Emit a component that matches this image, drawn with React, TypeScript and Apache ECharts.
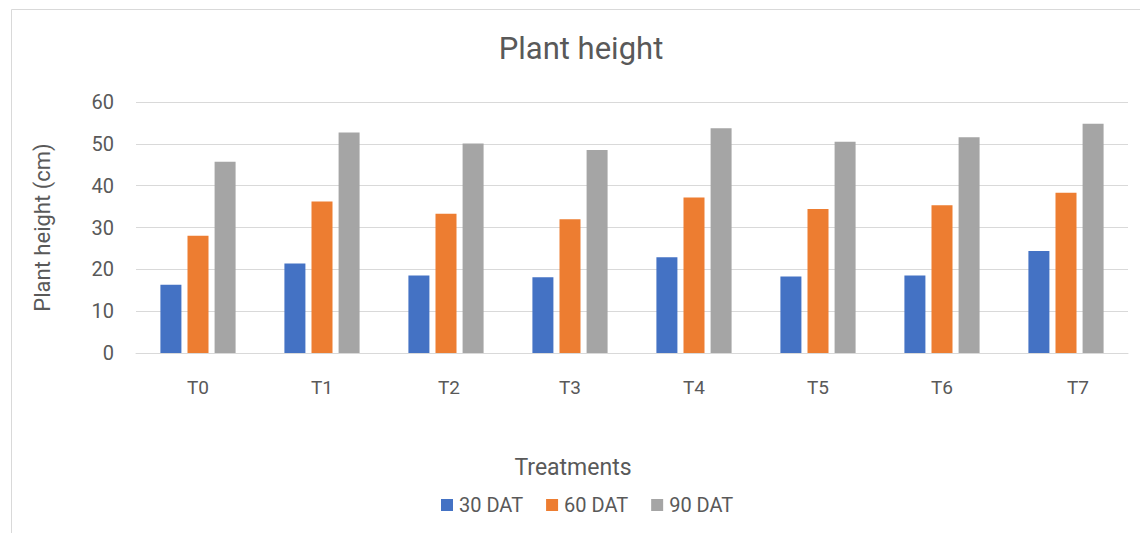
import React, { useEffect, useRef } from "react";
import * as echarts from "echarts";

const categories = ["T0", "T1", "T2", "T3", "T4", "T5", "T6", "T7"];
const seriesNames = ["30 DAT", "60 DAT", "90 DAT"];
const dat30 = [16.3, 21.4, 18.5, 18.1, 22.9, 18.3, 18.5, 24.4];
const dat60 = [28.0, 36.2, 33.3, 32.0, 37.2, 34.4, 35.3, 38.3];
const dat90 = [45.7, 52.7, 50.1, 48.5, 53.7, 50.5, 51.6, 54.8];
const yTicks = [0, 10, 20, 30, 40, 50, 60];
const colors = ["#4472C4", "#ED7D31", "#A5A5A5"];
const labelShift = [0, 0, 3, 0, 0, 0, 0, 12];

const FONT = "Roboto, 'Noto Sans', sans-serif";
const TEXT = "#595959";

export default function App() {
  const ref = useRef<HTMLDivElement>(null);
  useEffect(() => {
    if (!ref.current) return;
    const chart = echarts.init(ref.current, null, { renderer: "svg" });
    const values = [dat30, dat60, dat90];
    chart.setOption({
      animation: false,
      backgroundColor: "#ffffff",
      textStyle: { fontFamily: FONT, color: TEXT },
      title: {
        text: "Plant height",
        left: 581,
        textAlign: "center",
        top: 33,
        padding: 0,
        textStyle: { fontFamily: FONT, fontSize: 31, fontWeight: "normal", color: TEXT, lineHeight: 31 },
      },
      grid: { left: 136, right: 12, top: 102, bottom: 180, containLabel: false },
      legend: {
        data: seriesNames,
        left: 441,
        top: 495,
        itemWidth: 12,
        itemHeight: 12,
        itemGap: 23,
        icon: "rect",
        padding: 0,
        textStyle: { fontFamily: FONT, fontSize: 20, color: TEXT, padding: [0, 0, 0, 1] },
      },
      xAxis: {
        type: "category",
        data: categories.map((c, i) => ({
          value: c,
          textStyle: { padding: labelShift[i] > 0 ? [0, 0, 0, labelShift[i] * 2] : 0 },
        })),
        axisLine: { show: true, lineStyle: { color: "#d9d9d9", width: 1 } },
        axisTick: { show: false },
        axisLabel: { fontFamily: FONT, fontSize: 19, color: TEXT, margin: 25 },
      },
      yAxis: {
        type: "value",
        min: yTicks[0],
        max: yTicks[yTicks.length - 1],
        interval: 10,
        name: "Plant height (cm)",
        nameLocation: "middle",
        nameGap: 83,
        nameTextStyle: { fontFamily: FONT, fontSize: 22, color: TEXT },
        axisLine: { show: false },
        axisTick: { show: false },
        axisLabel: { fontFamily: FONT, fontSize: 20, color: TEXT, margin: 22 },
        splitLine: { lineStyle: { color: "#d9d9d9", width: 1 } },
      },
      series: seriesNames.map((name, i) => ({
        name,
        type: "bar",
        data: values[i],
        barWidth: 21,
        barGap: "29%",
        itemStyle: { color: colors[i] },
      })),
      graphic: [
        {
          type: "rect",
          shape: { x: 11.5, y: 9.5, width: 1200, height: 600 },
          style: { fill: "none", stroke: "#d9d9d9", lineWidth: 1 },
          silent: true,
        },
        {
          type: "text",
          x: 573,
          y: 467,
          style: {
            text: "Treatments",
            fontFamily: FONT,
            fontSize: 23,
            fill: TEXT,
            textAlign: "center",
            textVerticalAlign: "middle",
          },
        },
      ],
    });
    return () => chart.dispose();
  }, []);
  return (
    <div
      ref={ref}
      style={{ position: "absolute", left: 0, top: 0, width: 1140, height: 533 }}
    />
  );
}
